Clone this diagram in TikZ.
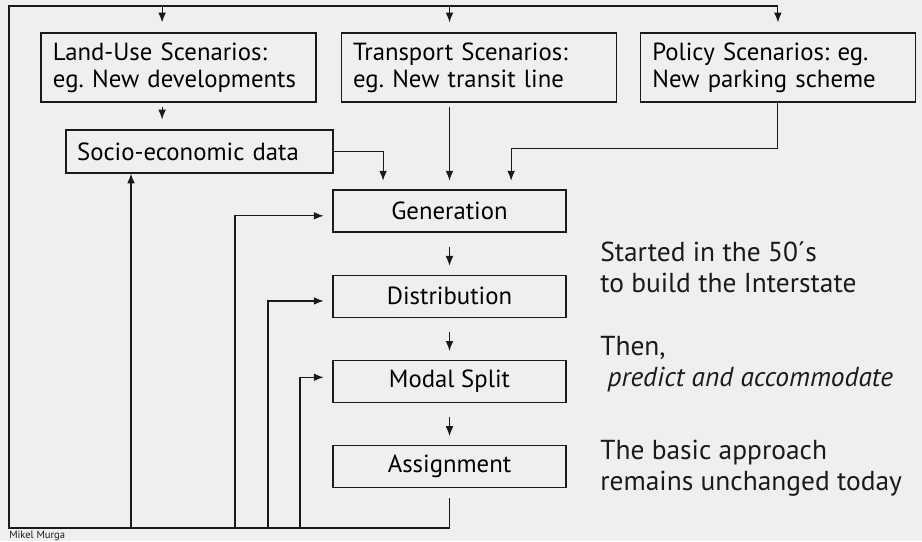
\documentclass[tikz,border=0pt]{standalone}
\usepackage{fontspec}
\setmainfont{PT Sans}
\frenchspacing
\usetikzlibrary{arrows.meta, positioning}

\definecolor{paper}{HTML}{EFEFEF}
\definecolor{ink}{HTML}{1A1A1A}

\begin{document}
\begin{tikzpicture}[
    x=0.025cm, y=-0.025cm,
    node distance=1.05cm,
    scenario/.style={
        draw=ink,
        line width=0.8pt,
        minimum height=1.725cm,
        inner xsep=0.3cm,
        text width=6.275cm,
        align=left,
        font=\fontsize{17.6}{19.4}\selectfont
    },
    stage/.style={
        draw=ink,
        line width=0.8pt,
        minimum width=5.825cm,
        minimum height=1.05cm,
        align=center,
        font=\fontsize{17.6}{19.4}\selectfont
    },
    note/.style={
        anchor=west,
        inner sep=0pt,
        align=left,
        text=ink,
        font=\fontsize{19.5}{22}\selectfont
    },
    arrow/.style={-{Latex[length=7pt, width=5.5pt]}, line width=0.8pt, draw=ink, shorten >=0.22cm}
]
\useasboundingbox[fill=paper] (0,0) rectangle (922,541);

% scenario inputs
\node[scenario] (landuse) at (178.5,67.5) {Land-Use Scenarios:\\eg. New developments};
\node[scenario, right=0.6cm of landuse] (transport) {Transport Scenarios:\\eg. New transit line};
\node[scenario, right=0.575cm of transport] (policy) {Policy Scenarios: eg.\\New parking scheme};
\node[scenario, minimum height=1.075cm, inner xsep=0.28cm, text width=6.115cm] (socio) at (199.5,151.5) {Socio-economic data};

% four step chain
\node[stage] (generation) at (449.5,211) {Generation};
\node[stage, below=of generation] (distribution) {Distribution};
\node[stage, below=of distribution] (modalsplit) {Modal Split};
\node[stage, below=of modalsplit] (assignment) {Assignment};

% side notes
\node[note] (started) at (600,267) {Started in the 50´s\\to build the Interstate};
\node[note] (then) at (600,364) {Then,\\\ \textit{predict and accommodate}};
\node[note] (basic) at (600,468.5) {The basic approach\\remains unchanged today};
\node[anchor=west, inner sep=0pt, text=ink, font=\fontsize{7.5}{8}\selectfont] (credit) at (9,536) {Mikel Murga};

% feedback bus
\coordinate (tl) at (9,6);
\coordinate (bl) at (9,528);
\coordinate (lutap) at ([xshift=-0.41cm]landuse.north);
\coordinate (gin1) at ([xshift=-1.66cm]generation.north);
\coordinate (gin3) at ([xshift=1.54cm]generation.north);
\coordinate (sfb) at (131,528);
\coordinate (gfb) at (235,528);
\coordinate (dfb) at (268,528);
\coordinate (mfb) at (300,528);

\draw[arrow, shorten <=0.25cm, shorten >=0.25cm] (assignment.south) -- (assignment.south |- bl) -- (bl) -- (tl) -| (policy.north);
\draw[arrow, shorten >=0.25cm] (lutap |- tl) -- (lutap);
\draw[arrow, shorten >=0.25cm] (generation.north |- tl) -- (generation.north |- transport.north);

\draw[arrow, shorten <=0.1cm, shorten >=0.25cm] (lutap |- landuse.south) -- (lutap |- socio.north);
\draw[arrow] (socio.east) -| (gin1);
\draw[arrow, shorten <=0.1cm] (generation.north |- transport.south) -- (generation.north);
\draw[arrow] (policy.south) -- ++(0,46) -| (gin3);

\draw[arrow, shorten <=0.35cm] (generation) -- (distribution);
\draw[arrow, shorten <=0.35cm] (distribution) -- (modalsplit);
\draw[arrow, shorten <=0.35cm] (modalsplit) -- (assignment);

\draw[arrow, shorten >=0pt] (sfb) -- (sfb |- socio.south);
\draw[arrow] (gfb) |- ([yshift=-0.12cm]generation.west);
\draw[arrow] (dfb) |- ([yshift=-0.12cm]distribution.west);
\draw[arrow] (mfb) |- ([yshift=0.1cm]modalsplit.west);
\end{tikzpicture}
\end{document}
